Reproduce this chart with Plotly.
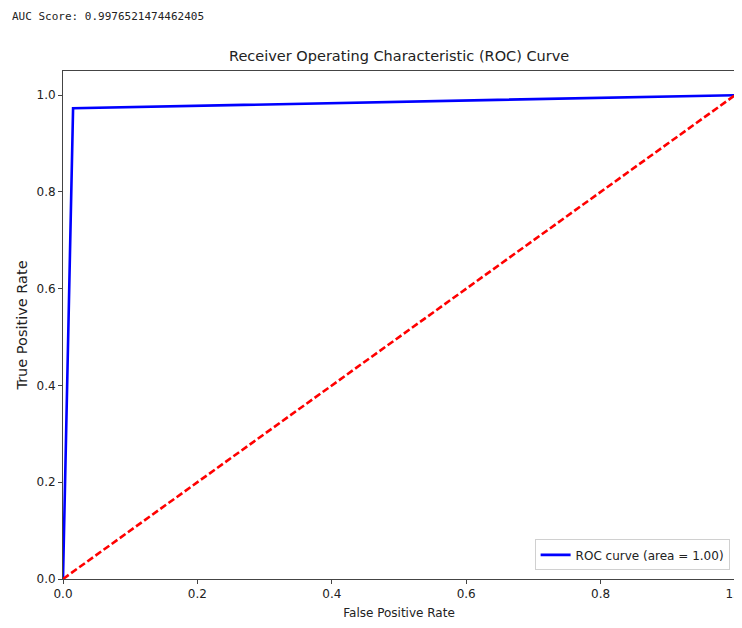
import plotly.graph_objects as go

auc_score = 0.9976521474462405
fpr = [0.0, 0.015, 1.0]
tpr = [0.0, 0.973, 1.0]
diag_x = [0.0, 1.0]
diag_y = [0.0, 1.0]
x_ticks = [0.0, 0.2, 0.4, 0.6, 0.8, 1.0]
y_ticks = [0.0, 0.2, 0.4, 0.6, 0.8, 1.0]
tick_text = ["0.0", "0.2", "0.4", "0.6", "0.8", "1.0"]

fig = go.Figure()
fig.add_trace(go.Scatter(x=fpr, y=tpr, mode="lines", name="ROC curve (area = %.2f)" % auc_score,
                         line=dict(color="#0000ff", width=2.6)))
fig.add_trace(go.Scatter(x=diag_x, y=diag_y, mode="lines", showlegend=False,
                         line=dict(color="#ff0000", width=2.6, dash="7px,3px")))

axis_common = dict(showgrid=False, zeroline=False, showline=True, linecolor="#444", linewidth=1,
                   mirror=True, ticks="outside", ticklen=4, tickcolor="#444",
                   tickfont=dict(family="DejaVu Sans", size=12, color="#222"))

fig.update_xaxes(range=[0, 1], tickvals=x_ticks, ticktext=tick_text, ticklabeloverflow="allow",
                 title=dict(text="False Positive Rate", font=dict(family="DejaVu Sans", size=12, color="#222"), standoff=8),
                 **axis_common)
fig.update_yaxes(range=[0, 1.05], tickvals=y_ticks, ticktext=tick_text,
                 title=dict(text="True Positive Rate", font=dict(family="DejaVu Sans", size=14.5, color="#222"), standoff=5),
                 **axis_common)

fig.update_layout(
    width=734, height=620,
    margin=dict(l=55, r=7, t=63, b=49, autoexpand=False),
    plot_bgcolor="white", paper_bgcolor="white",
    legend=dict(x=0.992, y=0.017, xanchor="right", yanchor="bottom",
                bgcolor="white", bordercolor="#d0d0d0", borderwidth=1,
                tracegroupgap=0, itemwidth=30,
                font=dict(family="DejaVu Sans", size=12, color="#222")),
    annotations=[
        dict(text="AUC Score: " + repr(auc_score), xref="paper", yref="paper", x=0, y=1,
             xshift=-53, yshift=46, xanchor="left", yanchor="bottom", showarrow=False,
             font=dict(family="DejaVu Sans Mono", size=11, color="#222")),
        dict(text="Receiver Operating Characteristic (ROC) Curve", xref="paper", yref="paper",
             x=0.5, y=1, yshift=5, xanchor="center", yanchor="bottom", showarrow=False,
             font=dict(family="DejaVu Sans", size=14.5, color="#222")),
    ],
)

fig.write_html("out.html")
